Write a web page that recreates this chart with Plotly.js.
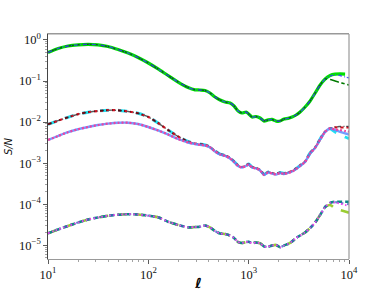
<!DOCTYPE html>
<html>
<head>
<meta charset="utf-8">
<script src="https://cdn.plot.ly/plotly-3.0.1.min.js"></script>
<style>
	html, body { margin: 0; padding: 0; background: #fff; }
	#plot { width: 388px; height: 291px; }
</style>
</head>
<body>
<div id="plot"></div>
<script>
(function () {

	'use strict';

	/**
	* Multipole grid (shared by every trace)
	*/
	const ell = [
		10, 12.6, 15.8, 19.9, 25.1, 31.5, 39.6, 49.9, 62.8, 78.9,
		100, 125, 157, 198, 249, 292, 327, 367, 412, 462,
		519, 582, 653, 715, 784, 859, 942, 1000, 1081, 1186,
		1300, 1425, 1561, 1711, 1876, 2056, 2254, 2471, 2708, 2969,
		3254, 3651, 4096, 4596, 5156, 5785,
		// tail, where the curves split
		6490, 7262, 8149, 9143, 10000
	];

	// top group, common part up to l ~ 5800
	const topHead = [
		0.496, 0.621, 0.714, 0.764, 0.785, 0.764, 0.695, 0.587, 0.482, 0.375,
		0.275, 0.197, 0.1365, 0.0948, 0.0697, 0.0612, 0.0605, 0.0589, 0.0512, 0.0409,
		0.0346, 0.0309, 0.0292, 0.0247, 0.0187, 0.0167, 0.0176, 0.0158, 0.0133, 0.0137,
		0.0126, 0.0106, 0.0113, 0.0116, 0.0106, 0.0106, 0.0119, 0.0123, 0.0133, 0.0149,
		0.0176, 0.0233, 0.0327, 0.0512, 0.0802, 0.112
	];
	const topTailLime  = [0.137, 0.147, 0.149, 0.148, null];
	const topTailBlue  = [0.133, 0.141, 0.1365, 0.1256, 0.119];
	const topTailGreen = [0.109, 0.100, 0.0922, 0.0848, 0.0802];

	// middle group, upper (dashed) curve
	const midUpperHead = [
		0.00885, 0.01083, 0.0131, 0.0156, 0.01745, 0.01866, 0.0195, 0.0194, 0.01815, 0.0164,
		0.01333, 0.00952, 0.00643, 0.00447, 0.00337, 0.00301, 0.00293, 0.00277, 0.00248, 0.00198,
		0.00167, 0.00154, 0.00134, 0.00110, 0.000879, 0.000807, 0.000879, 0.000955, 0.000807, 0.000763,
		0.000682, 0.000530, 0.000610, 0.000577, 0.000545, 0.000593, 0.000561, 0.000593, 0.000645, 0.000741,
		0.000879, 0.00110, 0.00177, 0.00241, 0.00388, 0.00591
	];
	// middle group, lower (dotted) curve
	const midLowerHead = [
		0.00367, 0.00459, 0.00568, 0.00669, 0.00760, 0.00851, 0.00916, 0.00963, 0.00968, 0.00900,
		0.00760, 0.00625, 0.00500, 0.00388, 0.00319, 0.00293, 0.00280, 0.00270, 0.00242, 0.00193,
		0.00163, 0.00150, 0.00130, 0.00107, 0.000855, 0.000785, 0.000855, 0.000930, 0.000785, 0.000742,
		0.000663, 0.000516, 0.000594, 0.000561, 0.000530, 0.000577, 0.000546, 0.000577, 0.000628, 0.000721,
		0.000855, 0.00107, 0.00172, 0.00235, 0.00378, 0.00576
	];
	const midTailBlack = [0.00708, 0.00760, 0.00782, 0.00788, 0.00788];
	const midTailRed   = [0.00708, 0.00745, 0.00740, 0.00740, 0.00740];
	const midTailCyan  = [0.00690, 0.00574, 0.00500, 0.00434, 0.00399];
	const midTailPink  = [0.00708, 0.00661, 0.00643, 0.00608, 0.00585];
	const midTailBlue  = [0.00700, 0.00640, 0.00580, 0.00530, 0.00500];

	// bottom group
	const lowHead = [
		1.96e-5, 2.43e-5, 2.95e-5, 3.59e-5, 4.25e-5, 4.75e-5, 5.23e-5, 5.56e-5, 5.72e-5, 5.62e-5,
		5.26e-5, 4.81e-5, 3.76e-5, 3.12e-5, 2.74e-5, 2.79e-5, 2.84e-5, 3.03e-5, 2.72e-5, 2.23e-5,
		1.94e-5, 1.88e-5, 1.73e-5, 1.51e-5, 1.20e-5, 1.14e-5, 1.20e-5, 1.22e-5, 1.12e-5, 1.17e-5,
		1.12e-5, 9.35e-6, 9.25e-6, 9.89e-6, 1.02e-5, 8.93e-6, 9.89e-6, 1.08e-5, 1.24e-5, 1.51e-5,
		1.73e-5, 2.05e-5, 2.64e-5, 3.59e-5, 5.47e-5, 8.57e-5
	];
	const lowTailTeal   = [1.08e-4, 1.15e-4, 1.15e-4, 1.15e-4, 1.15e-4];
	const lowTailSteel  = [1.08e-4, 1.12e-4, 1.08e-4, 1.03e-4, 1.00e-4];
	const lowTailPink   = [1.08e-4, 1.10e-4, 1.03e-4, 9.58e-5, 9.06e-5];
	const lowTailYellow = [9.60e-5, 7.96e-5, 7.24e-5, 6.65e-5, 6.22e-5];

	/**
	* Axis ticks
	*/
	const xTickVals = [10, 100, 1000, 10000];
	const xTickText = ['10<sup>1</sup>', '10<sup>2</sup>', '10<sup>3</sup>', '10<sup>4</sup>'];
	const yTickVals = [1e-5, 1e-4, 1e-3, 1e-2, 1e-1, 1];
	const yTickText = ['10<sup>\u22125</sup>', '10<sup>\u22124</sup>', '10<sup>\u22123</sup>',
		'10<sup>\u22122</sup>', '10<sup>\u22121</sup>', '10<sup>0</sup>'];
	const minorMults = [2, 3, 4, 5, 6, 7, 8, 9];

	/**
	* build a minor tick list for a set of decades
	* @param {Array} decades
	* @returns {Array}
	*/
	const minorTicks = ( decades ) => {
		let out = [];
		decades.forEach( d => minorMults.forEach( m => out.push( d * m )));
		return out;
	};

	/**
	* helper to build one trace
	*/
	const trace = ( head, tail, color, dash, width, opacity = 1 ) => ({
		x: ell,
		y: head.concat( tail ),
		type: 'scatter',
		mode: 'lines',
		line: { color, dash, width, shape: 'spline', smoothing: 0.6 },
		opacity,
		connectgaps: false,
		hoverinfo: 'skip',
	});

	const data = [
		// top
		trace( topHead, topTailLime, '#00e000', 'solid', 3.2 ),
		trace( topHead, topTailGreen, '#007a00', 'dashdot', 1.6 ),
		trace( topHead, topTailBlue, '#3a3aff', '4px,2px,1px,2px', 1.3, 0.85 ),
		// middle
		trace( midUpperHead, midTailCyan, '#22e0f0', 'dash', 3 ),
		trace( midUpperHead, midTailRed, '#d01020', '3px,3px', 2.2 ),
		trace( midUpperHead, midTailBlack, '#111111', '4px,2px,1px,2px', 1.4, 0.7 ),
		trace( midLowerHead, midTailBlue, '#5a8cff', 'solid', 2.4, 0.85 ),
		trace( midLowerHead, midTailPink, '#f040a0', '2px,2px', 2.2 ),
		// bottom
		trace( lowHead, lowTailYellow, '#9acd32', 'dash', 2.6 ),
		trace( lowHead, lowTailTeal, '#108888', '5px,3px', 2.6 ),
		trace( lowHead, lowTailSteel, '#4060c0', '2px,4px', 2.2, 0.8 ),
		trace( lowHead, lowTailPink, '#ee44ee', '1.5px,2.5px', 1.8 ),
	];

	const tickFont = { family: "'Liberation Serif', 'DejaVu Serif', serif", size: 12.5, color: '#111' };

	const layout = {
		width: 388,
		height: 291,
		margin: { l: 48, r: 39, t: 34, b: 32 },
		paper_bgcolor: '#fff',
		plot_bgcolor: '#fff',
		showlegend: false,
		xaxis: {
			type: 'log',
			range: [1, 4],
			tickmode: 'array',
			tickvals: xTickVals,
			ticktext: xTickText,
			ticks: 'outside',
			ticklen: 3.5,
			tickwidth: 0.8,
			tickcolor: '#333',
			tickfont: tickFont,
			showgrid: false,
			zeroline: false,
			showline: true,
			linecolor: '#999',
			linewidth: 1.2,
			mirror: true,
			minor: {
				tickmode: 'array',
				tickvals: minorTicks([10, 100, 1000]),
				ticks: 'outside',
				ticklen: 2,
				tickwidth: 0.6,
				tickcolor: '#666',
				showgrid: false,
			},
			title: {
				text: '<b><i>\u2113</i></b>',
				font: { family: "'DejaVu Sans', sans-serif", size: 14, color: '#000' },
				standoff: 0,
			},
		},
		yaxis: {
			type: 'log',
			range: [-5.334, 0.146],
			tickmode: 'array',
			tickvals: yTickVals,
			ticktext: yTickText,
			ticks: 'outside',
			ticklen: 3.5,
			tickwidth: 0.8,
			tickcolor: '#333',
			tickfont: tickFont,
			showgrid: false,
			zeroline: false,
			showline: true,
			linecolor: '#444',
			linewidth: 1.2,
			mirror: false,
			minor: {
				tickmode: 'array',
				tickvals: minorTicks([1e-6, 1e-5, 1e-4, 1e-3, 1e-2, 1e-1, 1]),
				ticks: 'outside',
				ticklen: 2,
				tickwidth: 0.6,
				tickcolor: '#666',
				showgrid: false,
			},
			title: {
				text: '<i>S/N</i>',
				font: { family: "'DejaVu Sans', sans-serif", size: 10, color: '#111' },
				standoff: 4,
			},
		},
		shapes: [
			// right + top frame in light grey
			{ type: 'line', xref: 'paper', yref: 'paper', x0: 1, x1: 1, y0: 0, y1: 1,
				line: { color: '#999', width: 1.2 } },
			{ type: 'line', xref: 'paper', yref: 'paper', x0: 0, x1: 1, y0: 1, y1: 1,
				line: { color: '#999', width: 1.2 } },
		],
	};

	Plotly.newPlot( 'plot', data, layout, { displayModeBar: false, staticPlot: true });

})();
</script>
</body>
</html>
